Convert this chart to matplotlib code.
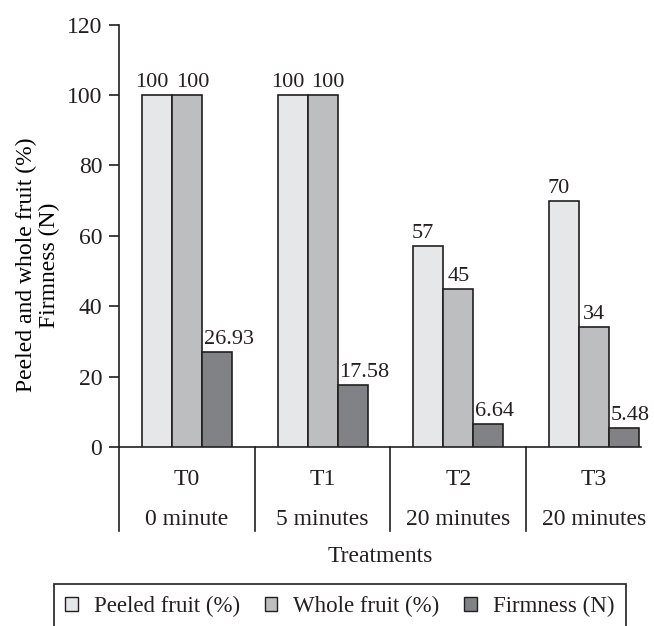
import matplotlib
matplotlib.use("Agg")
import matplotlib.pyplot as plt
import matplotlib.transforms as mtransforms
import numpy as np

categories = ["T0", "T1", "T2", "T3"]
durations = ["0 minute", "5 minutes", "20 minutes", "20 minutes"]
series_names = ["Peeled fruit (%)", "Whole fruit (%)", "Firmness (N)"]
peeled = [100, 100, 57, 70]
whole = [100, 100, 45, 34]
firmness = [26.93, 17.58, 6.64, 5.48]
value_labels = [["100", "100", "57", "70"],
                ["100", "100", "45", "34"],
                ["26.93", "17.58", "6.64", "5.48"]]
yticks = [0, 20, 40, 60, 80, 100, 120]

colors = ["#e6e7e8", "#bcbec0", "#808285"]
edge = "#231f20"
txt = "#231f20"

plt.rcParams["font.family"] = ["Liberation Serif", "DejaVu Serif"]
plt.rcParams["text.color"] = txt

fig = plt.figure(figsize=(6.54, 6.26), dpi=100)
ax = fig.add_axes([119/654, 1-447/626, (641-119)/654, (447-24.7)/626])

x = np.arange(len(categories))
w = 0.221
data = [peeled, whole, firmness]
offsets = [-w, 0, w]
# label alignment per series: (ha, dx in pixels)
label_style = [("center", -5), ("left", 4), ("left", 2)]
for i, (vals, col) in enumerate(zip(data, colors)):
    bars = ax.bar(x + offsets[i], vals, width=w, color=col, edgecolor=edge,
                  linewidth=1.2, label=series_names[i], zorder=3)
    ha, dx = label_style[i]
    for b, lab in zip(bars, value_labels[i]):
        if ha == "center":
            bx = b.get_x() + b.get_width()/2
        else:
            bx = b.get_x()
        ax.annotate(lab, (bx, b.get_height()), xytext=(dx*72/100, 8*72/100),
                    textcoords="offset points", ha=ha, va="baseline",
                    fontsize=16, color=txt)

ax.set_xlim(-0.5, -0.5 + (641-119)/135.7)
ax.set_ylim(0, 120)
ax.set_yticks(yticks)
ax.set_xticks([])
for s in ["top", "right"]:
    ax.spines[s].set_visible(False)
ax.spines["left"].set_color(edge)
ax.spines["bottom"].set_color(edge)
ax.spines["left"].set_linewidth(1.2)
ax.spines["bottom"].set_linewidth(1.2)
ax.tick_params(axis="y", direction="out", length=7, width=1.2, color=edge,
               labelsize=17, pad=5, labelcolor=txt)

# category table below axis
trans = mtransforms.blended_transform_factory(ax.transData, ax.transAxes)
ax_h = 447 - 24.7
for d in [-0.5, 0.5, 1.5, 2.5]:
    ax.plot([d, d], [0, -(530.7-447)/ax_h], transform=trans, color=edge,
            linewidth=1.2, clip_on=False)
for i in range(len(categories)):
    ax.text(x[i], -(485-447)/ax_h, categories[i], transform=trans,
            ha="center", va="baseline", fontsize=17)
    ax.text(x[i], -(525-447)/ax_h, durations[i], transform=trans,
            ha="center", va="baseline", fontsize=17)

fig.text((119+641)/2/654 - 0.0, 1-562/626, "Treatments", ha="center",
         va="baseline", fontsize=17)

ax.set_ylabel("Peeled and whole fruit (%)\nFirmness (N)", fontsize=17,
              linespacing=1.1, va="center")
ax.yaxis.set_label_coords(-(119-38)/522, (447-265)/ax_h)

leg = fig.legend(loc="lower left",
                 bbox_to_anchor=(54/654, -0.004, (625.7-54)/654, (626-582)/626 + 0.004),
                 mode="expand", ncol=3, fontsize=16.5, frameon=True,
                 fancybox=False, edgecolor=edge, framealpha=1,
                 handlelength=0.55, handleheight=0.55, handletextpad=0.7,
                 borderaxespad=0, borderpad=0.5, columnspacing=1.0)
leg.get_frame().set_linewidth(1.2)
for h in leg.legend_handles:
    h.set_linewidth(1.0)

fig.savefig("out.png", dpi=100)
